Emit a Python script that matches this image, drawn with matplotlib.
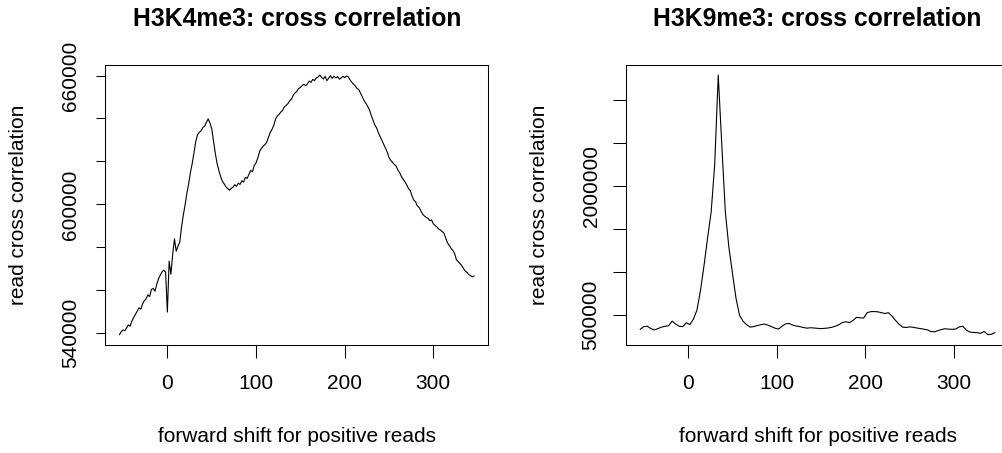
import matplotlib; matplotlib.use("Agg")
import matplotlib.pyplot as plt
import numpy as np

plt.rcParams['font.family'] = ['Liberation Sans', 'DejaVu Sans']

# H3K4me3 cross correlation, shift step 2 from -54 (values in thousands)
k4_corr = [
    539.4, 540.8, 541.6, 541.2, 542.6, 543.9, 543.3, 545.8, 547.4, 548.9,
    550.3, 551.9, 551.2, 553.6, 555.2, 556.0, 557.9, 557.1, 560.4, 560.9,
    559.6, 562.8, 565.4, 567.1, 568.6, 569.4, 568.5, 549.9, 573.6, 567.5,
    576.8, 584.0, 578.2, 580.6, 582.4, 589.5, 595.1, 599.8, 605.2, 609.6,
    614.8, 619.0, 623.9, 629.2, 632.4, 633.6, 634.2, 635.8, 636.4, 638.1,
    639.8, 637.9, 635.4, 629.6, 624.0, 619.2, 615.9, 613.1, 610.8, 609.6,
    608.3, 607.4, 606.6, 607.5, 608.0, 609.2, 608.4, 609.9, 609.3, 611.0,
    610.4, 612.6, 612.1, 614.0, 615.8, 615.2, 618.1, 619.3, 621.6, 624.6,
    626.0, 627.1, 627.8, 628.9, 631.2, 633.4, 634.9, 636.8, 639.6, 641.2,
    641.9, 643.0, 643.8, 645.4, 646.1, 646.9, 648.2, 649.0, 650.8, 651.9,
    652.6, 653.9, 654.4, 655.3, 655.9, 655.2, 656.1, 657.4, 656.8, 658.2,
    657.6, 658.9, 659.3, 660.2, 659.1, 658.4, 659.6, 657.6, 658.8, 659.9,
    658.6, 659.7, 658.9, 659.5, 658.3, 658.8, 659.6, 659.0, 659.8, 659.4,
    658.0, 656.9, 655.9, 655.1, 654.0, 653.4, 651.7, 649.9, 648.3, 647.0,
    645.6, 644.0, 641.4, 639.2, 637.0, 635.6, 633.4, 631.6, 629.9, 628.0,
    626.2, 624.4, 621.8, 620.5, 619.6, 618.6, 617.9, 616.0, 614.8, 613.0,
    611.7, 610.5, 609.1, 607.4, 606.5, 603.9, 602.0, 601.2, 599.3, 598.6,
    597.0, 595.4, 594.6, 593.9, 593.6, 592.4, 592.8, 591.0, 590.2, 589.5,
    588.6, 588.1, 587.4, 586.6, 584.4, 582.1, 580.9, 579.6, 578.6, 577.2,
    574.3, 573.4, 572.5, 571.6, 570.2, 569.0, 568.4, 567.3, 566.9, 566.3,
    566.7,
]

# H3K9me3 cross correlation, shift step 4 from -54 (values in thousands)
k9_corr = [
    337, 368, 372, 345, 330, 345, 362, 372, 378, 432,
    398, 372, 368, 412, 392, 455, 560, 790, 1080, 1400,
    1700, 2250, 3290, 2480, 1700, 1290, 990, 700, 500, 430,
    390, 362, 368, 380, 390, 398, 385, 368, 350, 340,
    372, 400, 405, 385, 375, 368, 358, 350, 355, 352,
    348, 345, 348, 352, 360, 372, 390, 415, 425, 414,
    440, 476, 470, 468, 530, 542, 543, 540, 530, 520,
    530, 490, 440, 395, 362, 358, 365, 360, 352, 345,
    338, 330, 310, 308, 322, 335, 344, 338, 337, 340,
    365, 372, 325, 305, 300, 298, 290, 312, 275, 278,
    298,
]

k4_shift = -54 + 2 * np.arange(len(k4_corr))
k9_shift = -54 + 4 * np.arange(len(k9_corr))

x_ticks = [0, 100, 200, 300]
k4_yticks = [540000, 560000, 580000, 600000, 620000, 640000, 660000]
k4_ylabels = ['540000', '', '', '600000', '', '', '660000']
k9_yticks = [500000, 1000000, 1500000, 2000000, 2500000, 3000000]
k9_ylabels = ['500000', '', '', '2000000', '', '']

titles = ['H3K4me3: cross correlation', 'H3K9me3: cross correlation']

fig = plt.figure(figsize=(10.02, 4.53), dpi=100)
ax1 = fig.add_axes([0.1051, 0.2384, 0.3822, 0.6188])
ax2 = fig.add_axes([0.6248, 0.2384, 0.3822, 0.6188])

panels = [
    (ax1, k4_shift, np.array(k4_corr) * 1000, titles[0], k4_yticks, k4_ylabels, 6.3),
    (ax2, k9_shift, np.array(k9_corr) * 1000, titles[1], k9_yticks, k9_ylabels, 9.1),
]

for ax, x, y, title, yt, yl, ytl in panels:
    ax.plot(x, y, color='black', linewidth=0.8)
    ax.margins(0.04)
    ax.set_xticks(x_ticks)
    ax.set_xticklabels([str(t) for t in x_ticks])
    ax.set_yticks(yt, yl, rotation=90, va='center')
    ax.tick_params(width=0.75, labelsize=15, color='black')
    ax.tick_params(axis='x', length=9.4, pad=11.2)
    ax.tick_params(axis='y', length=ytl, pad=12 + 6.3 - ytl)
    for s in ax.spines.values():
        s.set_linewidth(0.75)
        s.set_color('black')
    ax.set_title(title, fontsize=17.8, fontweight='bold', pad=28)
    ax.set_xlabel('forward shift for positive reads', fontsize=15, va='center')
    ax.xaxis.set_label_coords(0.5, -0.325)
    ax.set_ylabel('read cross correlation', fontsize=15, va='center', ha='center')
    ax.yaxis.set_label_coords(-0.227, 0.5)

plt.savefig("out.png", dpi=100)
